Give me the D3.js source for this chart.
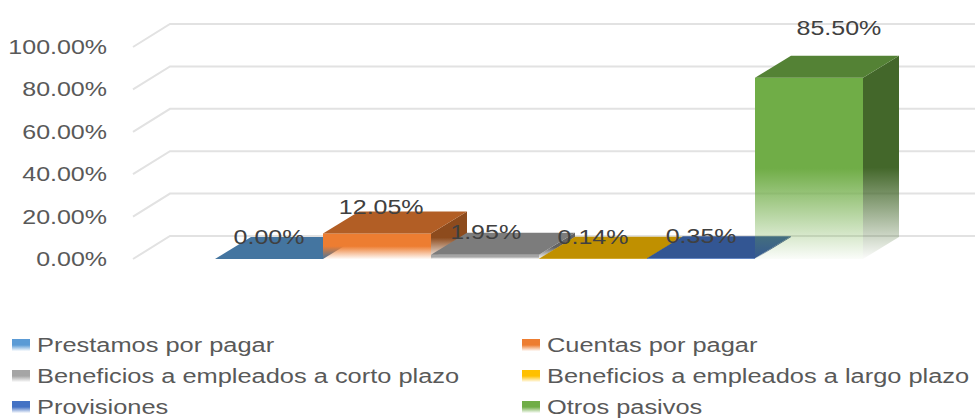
<!DOCTYPE html>
<html>
<head>
<meta charset="utf-8">
<script src="https://cdn.jsdelivr.net/npm/d3@7"></script>
<style>
  body { margin: 0; background: #fff; }
  text { font-family: "Liberation Sans", Arial, sans-serif; }
</style>
</head>
<body>
<div id="container"></div>
<script>
/* DATA */
const categories = ["Prestamos por pagar", "Cuentas por pagar", "Beneficios a empleados a corto plazo",
  "Beneficios a empleados a largo plazo", "Provisiones", "Otros pasivos"];
const values = [0.0000, 0.1205, 0.0195, 0.0014, 0.0035, 0.8550];
const colors = ["#5B9BD5", "#ED7D31", "#A5A5A5", "#FFC000", "#4472C4", "#70AD47"];
const yTicks = [0, 0.2, 0.4, 0.6, 0.8, 1.0];

/* CONSTANTS */
const width = 975, height = 418;
const depthX = 37, depthY = -23;   // 3d offset of the back wall
const sx = 1.25;                   // horizontal stretch of all text

const data = categories.map((c, i) => ({ cat: c, v: values[i], color: colors[i], i }));

const svg = d3.select("#container").append("svg")
  .attr("width", width)
  .attr("height", height);

// SCALES
const y = d3.scaleLinear().domain([0, 1]).range([259, 47]);
const x = d3.scaleBand().domain(categories).range([215, 863]).padding(0);

// GRADIENTS (fade to white at bottom)
const defs = svg.append("defs");
data.forEach(d => {
  const g = defs.append("linearGradient")
    .attr("id", "fade" + d.i)
    .attr("x1", 0).attr("y1", 0).attr("x2", 0).attr("y2", 1);
  g.append("stop").attr("offset", 0).attr("stop-color", d.color).attr("stop-opacity", 1);
  g.append("stop").attr("offset", 0.5).attr("stop-color", d.color).attr("stop-opacity", 1);
  g.append("stop").attr("offset", 1).attr("stop-color", d.color).attr("stop-opacity", 0.03);
  const s = defs.append("linearGradient")
    .attr("id", "side" + d.i)
    .attr("x1", 0).attr("y1", 0).attr("x2", 0).attr("y2", 1);
  const dark = d3.color(d.color).darker(1.45).formatHex();
  s.append("stop").attr("offset", 0).attr("stop-color", dark).attr("stop-opacity", 1);
  s.append("stop").attr("offset", 0.55).attr("stop-color", dark).attr("stop-opacity", 1);
  s.append("stop").attr("offset", 1).attr("stop-color", dark).attr("stop-opacity", 0.02);
});

// GRIDLINES (front diagonal + back wall)
svg.append("g").selectAll("polyline")
  .data(yTicks)
  .join("polyline")
  .attr("fill", "none")
  .attr("stroke", "#e2e2e2")
  .attr("stroke-width", 2)
  .attr("points", t => [[133, y(t)], [133 + depthX, y(t) + depthY], [width + 5, y(t) + depthY]].join(" "));

// Y AXIS LABELS
svg.append("g").selectAll("text")
  .data(yTicks)
  .join("text")
  .attr("transform", t => `translate(107,${y(t)}) scale(${sx},1)`)
  .attr("text-anchor", "end")
  .attr("dy", "0.35em")
  .attr("font-size", 20)
  .attr("fill", "#595959")
  .text(d3.format(".2%"));

// BARS
const dx = 36, dy = -22;
const bars = svg.append("g").selectAll("g")
  .data(data)
  .join("g");

bars.append("path")   // right side
  .attr("fill", d => `url(#side${d.i})`)
  .attr("d", d => {
    const x1 = x(d.cat) + x.bandwidth(), top = y(d.v), bot = y(0);
    return `M${x1},${top}L${x1 + dx},${top + dy}L${x1 + dx},${bot + dy}L${x1},${bot}Z`;
  });

bars.append("rect")   // front
  .attr("x", d => x(d.cat))
  .attr("y", d => y(d.v))
  .attr("width", x.bandwidth())
  .attr("height", d => y(0) - y(d.v))
  .attr("fill", d => `url(#fade${d.i})`);

bars.append("path")   // top
  .attr("fill", d => d3.color(d.color).darker(0.8).formatHex())
  .attr("d", d => {
    const x0 = x(d.cat), x1 = x0 + x.bandwidth(), top = y(d.v);
    return `M${x0},${top}L${x1},${top}L${x1 + dx},${top + dy}L${x0 + dx},${top + dy}Z`;
  });

// DATA LABELS
svg.append("g").selectAll("text")
  .data(data)
  .join("text")
  .attr("transform", d => {
    const lx = x(d.cat) + x.bandwidth() / 2 + 35 * d.v;
    const ly = y(d.v) + dy / 2 - 11 - 33 * d.v;
    return `translate(${lx},${ly}) scale(${sx},1)`;
  })
  .attr("text-anchor", "middle")
  .attr("dy", "0.35em")
  .attr("font-size", 20)
  .attr("fill", "#404040")
  .text(d => d3.format(".2%")(d.v));

// LEGEND
const legend = svg.append("g").selectAll("g")
  .data(data)
  .join("g")
  .attr("transform", d => `translate(${d.i % 2 ? 522 : 12},${345 + Math.floor(d.i / 2) * 31})`);

legend.append("rect")
  .attr("x", 0).attr("y", -6)
  .attr("width", 18).attr("height", 12)
  .attr("fill", d => `url(#fade${d.i})`);

legend.append("text")
  .attr("transform", `translate(25,0) scale(1.27,1)`)
  .attr("dy", "0.35em")
  .attr("font-size", 20)
  .attr("fill", "#595959")
  .text(d => d.cat);
</script>
</body>
</html>
